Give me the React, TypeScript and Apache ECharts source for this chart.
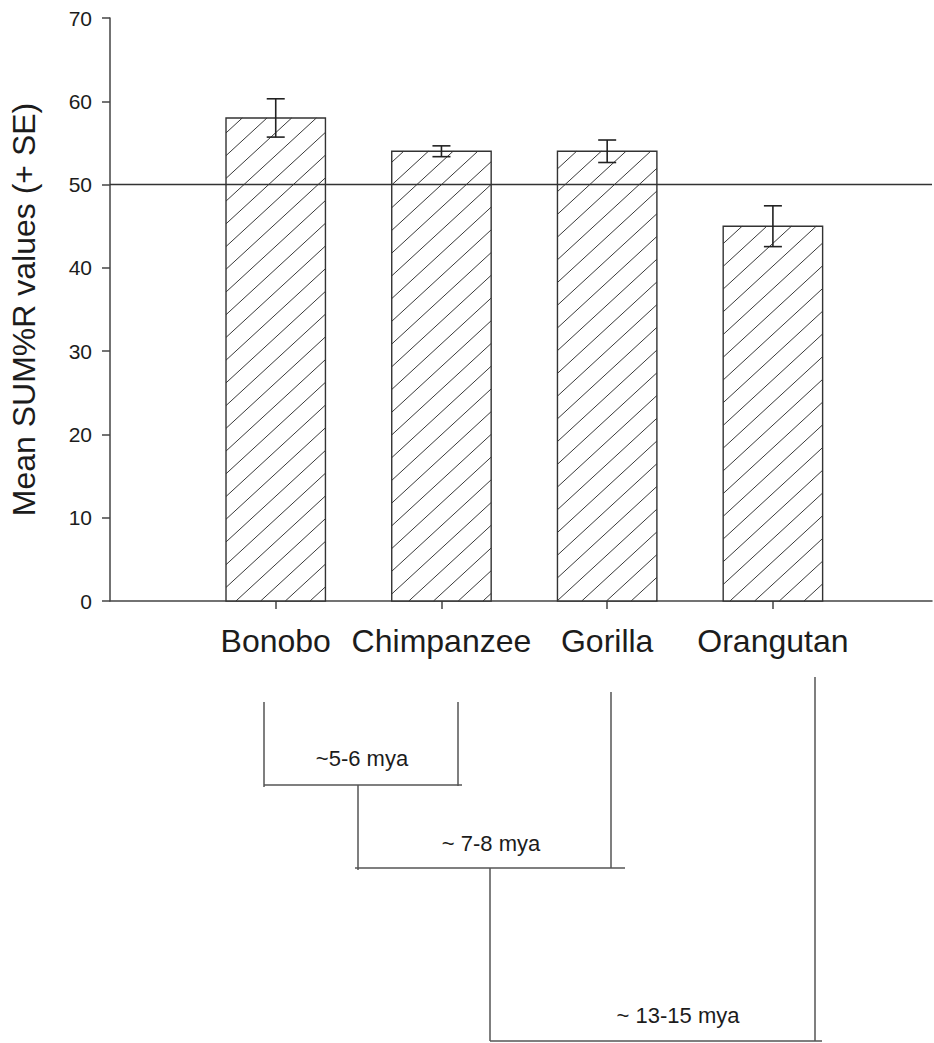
import React, { useEffect, useRef } from "react";
import * as echarts from "echarts";

// Species, mean SUM%R and standard errors
const species = ["Bonobo", "Chimpanzee", "Gorilla", "Orangutan"];
const meanValues = [58, 54, 54, 45];
const seValues = [2.3, 0.65, 1.35, 2.45];
const yTickValues = [0, 10, 20, 30, 40, 50, 60, 70];
const referenceLevel = 50;

// Divergence-time labels for the cladogram below the bars
const cladeLabels = ["~5-6 mya", "~ 7-8 mya", "~ 13-15 mya"];

const FONT = "'Liberation Sans', Arial, Helvetica, sans-serif";
const INK = "#1c1c1c";
const LINE = "#444";

export default function App() {
  const ref = useRef<HTMLDivElement>(null);

  useEffect(() => {
    document.body.style.margin = "0";
    const chart = echarts.init(ref.current!, null, { renderer: "svg" });

    const data = species.map((_, i) => [i + 1, meanValues[i], seValues[i]]);

    const renderItem = (params: any, api: any) => {
      const xi = api.value(0);
      const v = api.value(1);
      const se = api.value(2);
      const base = api.coord([xi, 0]);
      const top = api.coord([xi, v]);
      const bw = api.size([1, 0])[0] * 0.6;
      const x0 = base[0] - bw / 2;
      const x1 = base[0] + bw / 2;
      const yTop = top[1];
      const yBot = base[1];

      const children: any[] = [];
      children.push({
        type: "rect",
        shape: { x: x0, y: yTop, width: bw, height: yBot - yTop },
        style: { fill: "#fff", stroke: null },
      });

      // diagonal "/" hatching clipped to the bar
      const s = 0.92;
      const step = 24.7;
      const uMin = x0 + yTop / s;
      const uMax = x1 + yBot / s;
      for (let c = Math.ceil(uMin / step) * step; c <= uMax; c += step) {
        const xa = Math.max(x0, c - yBot / s);
        const xb = Math.min(x1, c - yTop / s);
        if (xb - xa > 0.5) {
          children.push({
            type: "line",
            shape: { x1: xa, y1: s * (c - xa), x2: xb, y2: s * (c - xb) },
            style: { stroke: "#3a3a3a", lineWidth: 1 },
          });
        }
      }

      children.push({
        type: "rect",
        shape: { x: x0, y: yTop, width: bw, height: yBot - yTop },
        style: { fill: null, stroke: "#333", lineWidth: 1.4 },
      });

      // error bar (mean ± SE)
      const hi = api.coord([xi, v + se]);
      const lo = api.coord([xi, v - se]);
      const cap = 9;
      const eb = { stroke: "#222", lineWidth: 1.6 };
      children.push(
        { type: "line", shape: { x1: hi[0], y1: hi[1], x2: lo[0], y2: lo[1] }, style: eb },
        { type: "line", shape: { x1: hi[0] - cap, y1: hi[1], x2: hi[0] + cap, y2: hi[1] }, style: eb },
        { type: "line", shape: { x1: lo[0] - cap, y1: lo[1], x2: lo[0] + cap, y2: lo[1] }, style: eb }
      );

      return { type: "group", children };
    };

    const seg = (x1: number, y1: number, x2: number, y2: number) => ({
      type: "line",
      shape: { x1, y1, x2, y2 },
      style: { stroke: "#555", lineWidth: 1.5 },
      silent: true,
    });
    const label = (text: string, x: number, y: number) => ({
      type: "text",
      x,
      y,
      silent: true,
      style: {
        text,
        fill: INK,
        fontSize: 22,
        fontFamily: FONT,
        align: "center",
        verticalAlign: "middle",
      },
    });

    chart.setOption({
      animation: false,
      backgroundColor: "#fff",
      grid: { left: 108, right: 2, top: 18, bottom: 442, containLabel: false },
      xAxis: {
        type: "value",
        min: 0,
        max: 4.96,
        interval: 1,
        splitLine: { show: false },
        axisLine: { show: true, lineStyle: { color: LINE, width: 1.5 } },
        axisTick: {
          show: true,
          inside: false,
          length: 8,
          customValues: [1, 2, 3, 4],
          lineStyle: { color: LINE, width: 1.5 },
        },
        axisLabel: {
          show: true,
          customValues: [1, 2, 3, 4],
          formatter: (v: number) => species[Math.round(v) - 1] ?? "",
          fontSize: 32,
          fontFamily: FONT,
          color: INK,
          margin: 24,
        },
      },
      yAxis: {
        type: "value",
        min: 0,
        max: 70,
        interval: 10,
        name: "Mean SUM%R values (+ SE)",
        nameLocation: "middle",
        nameGap: 70,
        nameTextStyle: { fontSize: 32, fontFamily: FONT, color: INK },
        splitLine: { show: false },
        axisLine: { show: true, lineStyle: { color: LINE, width: 1.5 } },
        axisTick: { show: true, inside: false, length: 8, lineStyle: { color: LINE, width: 1.5 } },
        axisLabel: {
          fontSize: 21,
          fontFamily: FONT,
          color: INK,
          margin: 18,
          formatter: (v: number) => (yTickValues.includes(v) ? String(v) : ""),
        },
      },
      series: [
        {
          type: "custom",
          renderItem,
          data,
          encode: { x: 0, y: 1 },
          markLine: {
            silent: true,
            symbol: "none",
            label: { show: false },
            lineStyle: { color: "#333", width: 1.3, type: "solid" },
            data: [{ yAxis: referenceLevel }],
          },
          z: 2,
        },
      ],
      graphic: [
        // Bonobo + Chimpanzee
        seg(264, 702, 264, 787),
        seg(458, 702, 458, 786),
        seg(264, 785, 462, 785),
        label(cladeLabels[0], 362, 758),
        // + Gorilla
        seg(358, 785, 358, 870),
        seg(611, 692, 611, 868),
        seg(355, 868, 625, 868),
        label(cladeLabels[1], 491, 843),
        // + Orangutan
        seg(490, 868, 490, 1041),
        seg(815, 677, 815, 1041),
        seg(490, 1041, 822, 1041),
        label(cladeLabels[2], 678, 1015),
      ],
    });

    return () => chart.dispose();
  }, []);

  return <div ref={ref} style={{ width: 934, height: 1043 }} />;
}
